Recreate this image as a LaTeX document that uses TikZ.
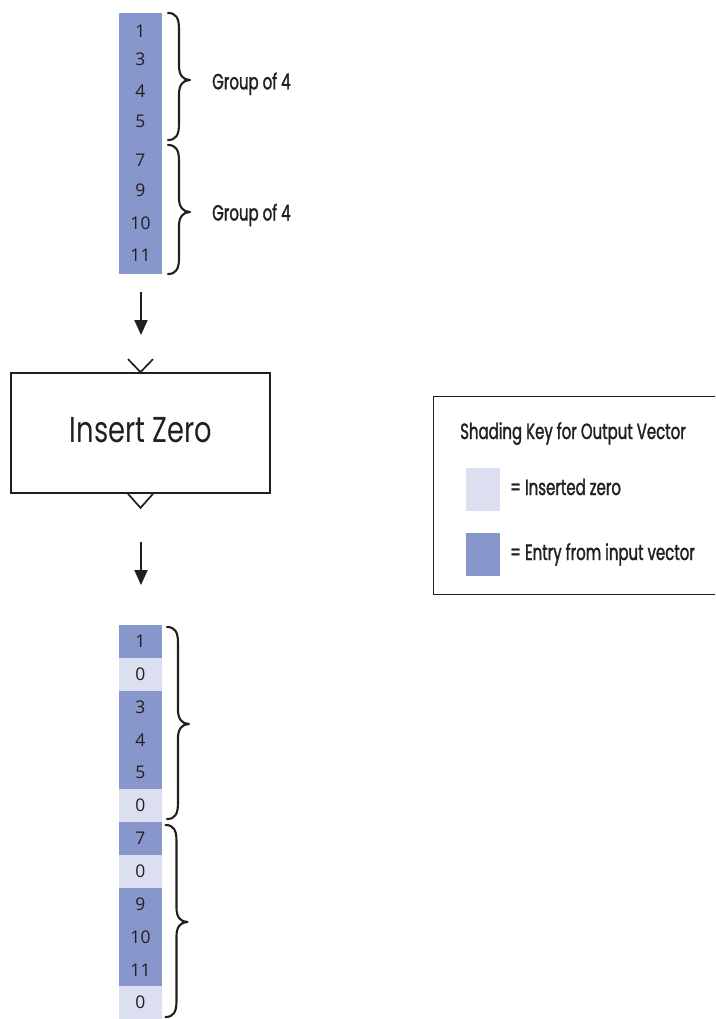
\documentclass[tikz,border=0pt]{standalone}
\usepackage{fontspec}
\usetikzlibrary{arrows.meta}
\newfontfamily\numfont{Open Sans}
\newfontfamily\lblfont[FakeStretch=0.68, FakeBold=1.4]{Poppins}
\newfontfamily\boxfont[FakeStretch=0.76]{Poppins}
\definecolor{darkcell}{HTML}{8796CB}
\definecolor{lightcell}{HTML}{DCDFF0}
\definecolor{ink}{HTML}{231F20}
\newcommand{\mybrace}[4]{% x0, ytop, ymid, ybot
  \draw[bracestyle] (#1,#2) .. controls ({#1+8},{#2}) and ({#1+11},{#2+5}) .. ({#1+11},{#2+16})
    -- ({#1+11},{#3-14}) .. controls ({#1+11},{#3-5}) and ({#1+15},{#3}) .. ({#1+22},{#3})
    .. controls ({#1+15},{#3}) and ({#1+11},{#3+5}) .. ({#1+11},{#3+14})
    -- ({#1+11},{#4-16}) .. controls ({#1+11},{#4-5}) and ({#1+8},{#4}) .. (#1,#4);}
\begin{document}
\begin{tikzpicture}[x=1pt,y=-1pt,
  bracestyle/.style={draw=ink, line width=2.1pt, line cap=round, line join=round},
  num/.style={text=ink, font=\numfont\fontsize{17.5pt}{20pt}\selectfont, inner sep=0pt},
  cell/.style={minimum width=43pt, minimum height=32.9pt, inner sep=0pt, outer sep=0pt, anchor=north,
     text=ink, font=\numfont\fontsize{17.5pt}{20pt}\selectfont},
  lbl/.style={text=ink, font=\lblfont\fontsize{22pt}{26pt}\selectfont, inner sep=0pt, anchor=base west},
  flowarrow/.style={draw=ink, line width=2pt, -{Triangle[length=15pt,width=13pt]}},
  thinline/.style={draw=ink, line width=1.7pt}]
\useasboundingbox (0,0) rectangle (715,1019);
\clip (0,0) rectangle (715,1019);

% input vector
\node[fill=darkcell, minimum width=43pt, minimum height=261pt, inner sep=0pt, anchor=north] (invec) at (140.5,13) {};
\node[num] (n1) at (140.5,31.3) {1};
\node[num] (n2) at (140.5,59.5) {3};
\node[num] (n3) at (140.5,91.7) {4};
\node[num] (n4) at (140.5,121.7) {5};
\node[num] (n5) at (140.5,160) {7};
\node[num] (n6) at (140.5,190.7) {9};
\node[num] (n7) at (140.5,223.7) {10};
\node[num] (n8) at (140.5,255.3) {11};

\mybrace{168}{13}{80}{140}
\mybrace{168}{145}{212}{274}
\node[lbl] (g1) at (212,89.3) {Group of 4};
\node[lbl] (g2) at (212,220.5) {Group of 4};

% arrows and block
\coordinate (a1s) at (141,292);
\coordinate (a1e) at (141,335);
\draw[flowarrow] (a1s) -- (a1e);

\node[draw=ink, line width=1.7pt, minimum width=259pt, minimum height=120pt, inner sep=0pt] (iz) at (140.5,433) {};
\node[text=ink, font=\boxfont\fontsize{36pt}{40pt}\selectfont, inner sep=0pt, anchor=base] (izt) at (141,442.7) {Insert Zero};
\draw[thinline, line join=miter] ([xshift=-12.5pt,yshift=13pt]iz.north) -- (iz.north) -- ([xshift=12.5pt,yshift=13pt]iz.north);
\draw[thinline, line join=miter] ([xshift=-12.5pt]iz.south) -- ([yshift=-14pt]iz.south) -- ([xshift=12.5pt]iz.south);

\coordinate (a2s) at (141,542);
\coordinate (a2e) at (141,585);
\draw[flowarrow] (a2s) -- (a2e);

% output vector
\foreach \v/\c [count=\i from 0] in {1/darkcell,0/lightcell,3/darkcell,4/darkcell,5/darkcell,0/lightcell,7/darkcell,0/lightcell,9/darkcell,10/darkcell,11/darkcell,0/lightcell}{
  \node[cell, fill=\c] (o\i) at (140.5,{625+\i*32.83}) {\v};
}
\mybrace{167}{627}{724}{819}
\mybrace{165.5}{825}{922}{1017}

% key
\node[draw=ink, line width=1.3pt, minimum width=290pt, minimum height=198pt, inner sep=0pt, anchor=north west] (key) at (433,396) {};
\node[lbl] (kt) at (460,439) {Shading Key for Output Vector};
\node[fill=lightcell, minimum width=34pt, minimum height=43pt, inner sep=0pt, anchor=north west] (sw1) at (466,468) {};
\node[fill=darkcell, minimum width=34pt, minimum height=43pt, inner sep=0pt, anchor=north west] (sw2) at (466,533) {};
\node[lbl] (k1) at (510,495) {= Inserted zero};
\node[lbl] (k2) at (510,560) {= Entry from input vector};
\end{tikzpicture}
\end{document}
